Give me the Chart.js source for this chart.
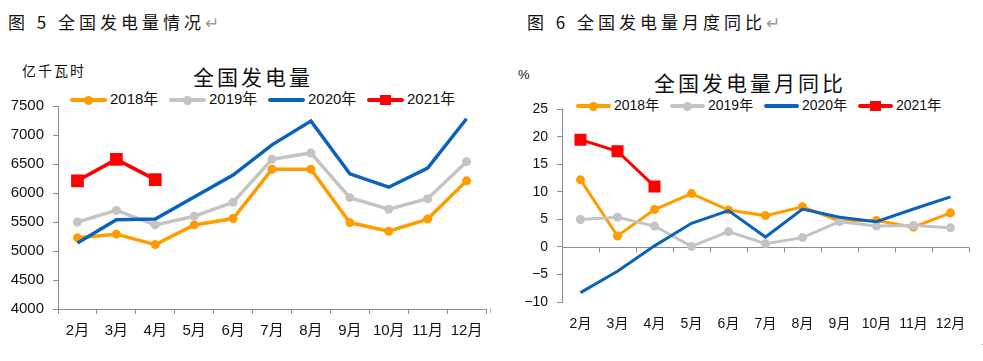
<!DOCTYPE html>
<html>
<head>
<meta charset="utf-8">
<script src="https://cdn.jsdelivr.net/npm/chart.js@4.4.0/dist/chart.umd.min.js"></script>
<style>
body { margin: 0; width: 983px; height: 361px; background: #fff; position: relative; overflow: hidden;
       font-family: "Noto Sans CJK SC", sans-serif; color: #111; }
.abs { position: absolute; white-space: nowrap; }
.head { font-size: 17px; letter-spacing: 4px; line-height: 20px; }
.head .ret { color: #999; letter-spacing: 0; }
.title { font-size: 21px; letter-spacing: 3px; line-height: 24px; transform: translateX(-50%); }
.unit { font-size: 14px; letter-spacing: 2px; }
.legend-item { position: absolute; height: 16px; white-space: nowrap; font-family: "Liberation Sans", "Noto Sans CJK SC", sans-serif; }
.legend-item .ln { position: absolute; top: 7px; height: 4px; border-radius: 2px; }
.legend-item .mk { position: absolute; }
.legend-item .tx { position: absolute; top: -1px; color: #111; white-space: nowrap; line-height: 18px; }
.mark { position: absolute; background: #bbb; }
canvas { position: absolute; }
</style>
</head>
<body>

<div class="abs head" style="left:8px; top:12px;">图 5 全国发电量情况<span class="ret">↵</span></div>
<div class="abs head" style="left:527px; top:12px;">图 6 全国发电量月度同比<span class="ret">↵</span></div>

<div class="abs unit" style="left:22px; top:60px;">亿千瓦时</div>
<div class="abs title" style="left:253px; top:64px;">全国发电量</div>
<div class="abs" style="left:518px; top:67px; font-size:13px; font-family:'Liberation Sans',sans-serif;">%</div>
<div class="abs title" style="left:750px; top:70px;">全国发电量月同比</div>

<div id="legend1"></div>
<div id="legend2"></div>

<canvas id="gen-chart" width="495" height="257" style="left:0; top:88px;"></canvas>
<canvas id="yoy-chart" width="488" height="253" style="left:495px; top:92px;"></canvas>

<div class="mark" style="left:490px; top:308px; width:1px; height:5px;"></div>
<div class="mark" style="left:981px; top:344px; width:2px; height:1px;"></div>

<script>
var months = ['2月', '3月', '4月', '5月', '6月', '7月', '8月', '9月', '10月', '11月', '12月'];
var years = ['2018年', '2019年', '2020年', '2021年'];

// 全国发电量, 亿千瓦时
var gen2018 = [5230, 5290, 5110, 5450, 5560, 6410, 6410, 5490, 5340, 5550, 6210];
var gen2019 = [5500, 5700, 5450, 5600, 5840, 6580, 6690, 5920, 5720, 5900, 6540];
var gen2020 = [5140, 5540, 5550, 5930, 6310, 6830, 7240, 6330, 6100, 6430, 7280];
var gen2021 = [6210, 6580, 6230];

// 全国发电量月同比, %
var yoy2018 = [12.2, 2.0, 6.8, 9.7, 6.7, 5.7, 7.3, 4.7, 4.8, 3.6, 6.2];
var yoy2019 = [5.0, 5.4, 3.8, 0.1, 2.8, 0.6, 1.7, 4.6, 3.8, 3.9, 3.5];
var yoy2020 = [-8.3, -4.4, 0.2, 4.3, 6.6, 1.8, 6.9, 5.4, 4.6, 6.9, 9.1];
var yoy2021 = [19.5, 17.4, 11.0];

var genAxis = [4000, 7500, 500];
var yoyAxis = [-10, 25, 5];

var colors = ['#FF9C00', '#C4C4C4', '#0B62BD', '#FF0000'];
var markers = ['circle', 'circle', null, 'rect'];

var axisColor = '#8c8c8c';
var tickFont = '"Liberation Sans", "Noto Sans CJK SC", sans-serif';

function makeDatasets(series, lineWidth, dotRadius, rectRadius) {
    return series.map(function(values, i) {
        var radius = 0;
        if (markers[i] === 'circle') {
            radius = dotRadius;
        } else if (markers[i] === 'rect') {
            radius = rectRadius;
        }
        return {
            label: years[i],
            data: values,
            borderColor: colors[i],
            backgroundColor: colors[i],
            borderWidth: lineWidth,
            pointStyle: markers[i] || 'circle',
            pointRadius: radius,
            pointBackgroundColor: colors[i],
            pointBorderWidth: 0,
            pointHoverRadius: radius,
            tension: 0,
            order: 4 - i
        };
    });
}

function buildLegend(id, left, top, step, lineLen, fontSize) {
    var box = document.getElementById(id);
    years.forEach(function(name, i) {
        var item = document.createElement('div');
        item.className = 'legend-item';
        item.style.left = (left + i * step) + 'px';
        item.style.top = (top - 8) + 'px';

        var ln = document.createElement('span');
        ln.className = 'ln';
        ln.style.left = '0px';
        ln.style.width = lineLen + 'px';
        ln.style.background = colors[i];
        item.appendChild(ln);

        if (markers[i]) {
            var mk = document.createElement('span');
            mk.className = 'mk';
            mk.style.background = colors[i];
            if (markers[i] === 'circle') {
                mk.style.width = '9px';
                mk.style.height = '9px';
                mk.style.borderRadius = '50%';
                mk.style.left = (lineLen / 2 - 4.5) + 'px';
                mk.style.top = '4.5px';
            } else {
                mk.style.width = '11px';
                mk.style.height = '10px';
                mk.style.left = (lineLen / 2 - 5.5) + 'px';
                mk.style.top = '4px';
            }
            item.appendChild(mk);
        }

        var tx = document.createElement('span');
        tx.className = 'tx';
        tx.style.left = (lineLen + 3) + 'px';
        tx.style.fontSize = fontSize + 'px';
        tx.textContent = name;
        item.appendChild(tx);

        box.appendChild(item);
    });
}

// zero line with category ticks for the yoy chart
var zeroLine = {
    id: 'zeroLine',
    beforeDatasetsDraw: function(chart) {
        var xs = chart.scales.x;
        var ys = chart.scales.y;
        var y0 = Math.round(ys.getPixelForValue(0)) + 0.5;
        var ctx = chart.ctx;
        ctx.save();
        ctx.strokeStyle = axisColor;
        ctx.lineWidth = 1;
        ctx.beginPath();
        ctx.moveTo(chart.chartArea.left, y0);
        ctx.lineTo(chart.chartArea.right, y0);
        for (var i = 0; i <= months.length; ++i) {
            var x = Math.round(xs.getPixelForValue(i - 0.5)) + 0.5;
            ctx.moveTo(x, y0);
            ctx.lineTo(x, y0 + 5);
        }
        ctx.stroke();
        ctx.restore();
    }
};

function makeOptions(axis, yWidth, xHeight, pad, fontSize, xAxisLine, xPadding) {
    return {
        responsive: false,
        animation: false,
        events: [],
        layout: { padding: pad },
        plugins: {
            legend: { display: false },
            tooltip: { enabled: false },
            title: { display: false }
        },
        scales: {
            x: {
                type: 'category',
                offset: true,
                grid: {
                    display: xAxisLine,
                    offset: true,
                    drawOnChartArea: false,
                    drawTicks: true,
                    tickLength: 5,
                    color: axisColor
                },
                border: { display: xAxisLine, color: axisColor, width: 1 },
                ticks: {
                    color: '#111',
                    padding: xPadding,
                    maxRotation: 0,
                    autoSkip: false,
                    font: { family: tickFont, size: fontSize }
                },
                afterFit: function(scale) { scale.height = xHeight; }
            },
            y: {
                min: axis[0],
                max: axis[1],
                grid: {
                    drawOnChartArea: false,
                    drawTicks: true,
                    tickLength: 5,
                    color: axisColor
                },
                border: { display: true, color: axisColor, width: 1 },
                ticks: {
                    stepSize: axis[2],
                    color: '#111',
                    padding: 9,
                    font: { family: tickFont, size: fontSize },
                    callback: function(v) { return String(v).replace('-', '\u2212'); }
                },
                afterFit: function(scale) { scale.width = yWidth; }
            }
        }
    };
}

document.addEventListener('DOMContentLoaded', function() {
    buildLegend('legend1', 70, 99, 99, 37, 15);
    buildLegend('legend2', 576, 105, 94, 35, 14);

    new Chart(document.getElementById('gen-chart'), {
        type: 'line',
        data: {
            labels: months,
            datasets: makeDatasets([gen2018, gen2019, gen2020, gen2021], 3.5, 4.5, 9)
        },
        options: makeOptions(genAxis, 58, 36, { left: 0, right: 6, top: 8, bottom: 0 }, 15, true, 8)
    });

    new Chart(document.getElementById('yoy-chart'), {
        type: 'line',
        data: {
            labels: months,
            datasets: makeDatasets([yoy2018, yoy2019, yoy2020, yoy2021], 3, 4.5, 8.5)
        },
        options: makeOptions(yoyAxis, 67, 43, { left: 0, right: 14, top: 12, bottom: 0 }, 14, false, 9),
        plugins: [zeroLine]
    });
});
</script>
</body>
</html>
